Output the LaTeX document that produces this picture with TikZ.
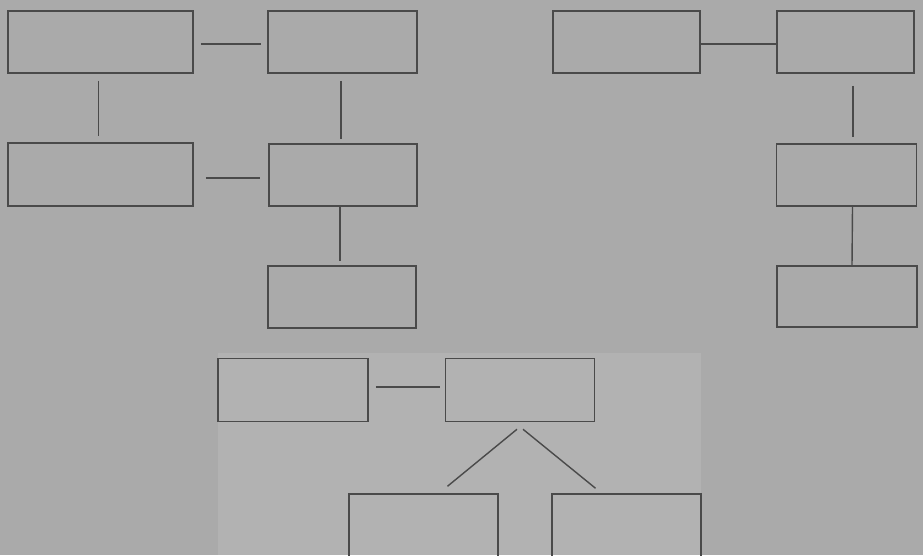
\documentclass[tikz,border=0pt]{standalone}
\definecolor{paper}{HTML}{AAAAAA}
\definecolor{inset}{HTML}{B2B2B2}
\definecolor{ink}{HTML}{4A4A4A}
\begin{document}
\begin{tikzpicture}[x=1pt,y=-1pt,
  box/.style={draw=ink,line width=1.5pt,fill=none,inner sep=0pt,rectangle},
  conn/.style={draw=ink,line width=1.4pt}]
\useasboundingbox (0,0) rectangle (923,555);
\clip (0,0) rectangle (923,555);
\fill[paper] (0,0) rectangle (923,555);
\fill[inset] (218,353) rectangle (701,555);
% boxes
\node[box,minimum width=185pt,minimum height=62pt] (A) at (100.5,42) {};
\node[box,minimum width=149pt,minimum height=62pt] (B) at (342.5,42) {};
\node[box,minimum width=147pt,minimum height=62pt] (C) at (626.5,42) {};
\node[box,minimum width=137pt,minimum height=62pt] (D) at (845.5,42) {};
\node[box,minimum width=185pt,minimum height=63pt] (E) at (100.5,174.5) {};
\node[box,minimum width=148pt,minimum height=62pt] (F) at (343,175) {};
\node[box,minimum width=140pt,minimum height=62pt] (G) at (846.5,175) {};
\node[box,minimum width=148pt,minimum height=62pt] (H) at (342,297) {};
\node[box,minimum width=140pt,minimum height=61pt] (I) at (847,296.5) {};
\node[box,minimum width=150pt,minimum height=63pt] (J) at (293,390) {};
\node[box,minimum width=149pt,minimum height=63pt] (K) at (520,390) {};
\node[box,minimum width=149pt,minimum height=66pt] (L) at (423.5,527) {};
\node[box,minimum width=149pt,minimum height=66pt] (M) at (626.5,527) {};
% connectors
\draw[conn] ([xshift=7pt,yshift=-2pt]A.east) -- ([xshift=-6pt,yshift=-2pt]B.west);
\draw[conn] ([xshift=-2pt,yshift=-7pt]A.south) -- ([xshift=-2pt,yshift=6pt]E.north);
\draw[conn] ([xshift=-1.5pt,yshift=-7pt]B.south) -- ([xshift=-1.5pt,yshift=4pt]B.south |- F.north);
\draw[conn] ([xshift=12pt,yshift=-3.5pt]E.east) -- ([xshift=-8pt,yshift=-3pt]F.west);
\draw[conn] ([xshift=-3pt]F.south) -- ([xshift=-2pt,yshift=4pt]H.north);
\draw[conn] ([yshift=-2pt]C.east) -- ([yshift=-2pt]D.west);
\draw[conn] ([xshift=7.5pt,yshift=-12pt]D.south) -- ([xshift=6.5pt,yshift=6pt]G.north);
\draw[conn] ([xshift=6pt]G.south) -- ([xshift=5pt]I.north);
\draw[conn] ([xshift=7pt,yshift=3pt]J.east) -- ([xshift=-5pt,yshift=3pt]K.west);
\draw[conn] ([xshift=-3pt,yshift=-7pt]K.south) -- ([xshift=24pt,yshift=7pt]L.north);
\draw[conn] ([xshift=3pt,yshift=-7pt]K.south) -- ([xshift=-31pt,yshift=5pt]M.north);
\end{tikzpicture}
\end{document}
